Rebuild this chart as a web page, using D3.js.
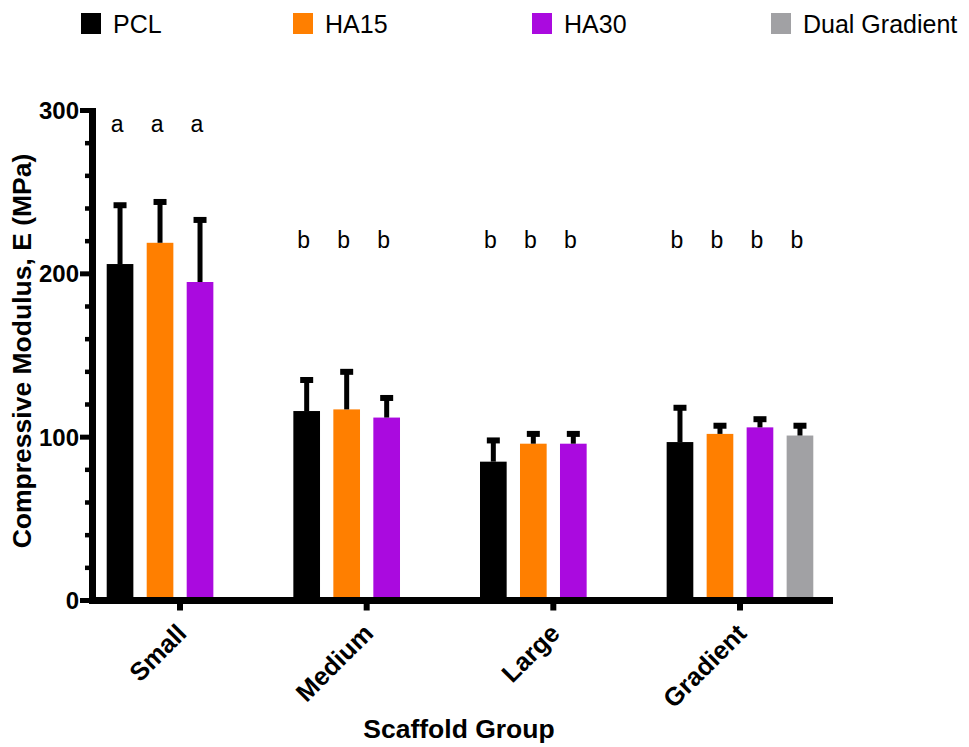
<!DOCTYPE html>
<html><head><meta charset="utf-8">
<script src="https://cdn.jsdelivr.net/npm/d3@7"></script>
<style>
body{margin:0;background:#fff}
svg{display:block}
text{font-family:Arial,"Liberation Sans",Helvetica,sans-serif}
</style>
</head><body>
<svg id="c" width="969" height="747"></svg>
<script>
// ---- data ----
const groups = ["Small", "Medium", "Large", "Gradient"];
const seriesNames = ["PCL", "HA15", "HA30", "Dual Gradient"];
const seriesColors = ["#000000", "#FF7F00", "#AA0ADF", "#A1A1A4"];
const pclMean  = [206, 116, 85, 97];
const pclSD    = [36, 19, 13, 21];
const ha15Mean = [219, 117, 96, 102];
const ha15SD   = [25, 23, 6, 5];
const ha30Mean = [195, 112, 96, 106];
const ha30SD   = [38, 12, 6, 5];
const dualMean = [null, null, null, 101];
const dualSD   = [null, null, null, 6];
const sigLetters = [["a","a","a",null],["b","b","b",null],["b","b","b",null],["b","b","b","b"]];
const letterLevel = [287, 216, 216, 216];
const yTickValues = [0, 100, 200, 300];
const yMinorValues = d3.range(0, 301, 20).filter(v => v % 100 !== 0);

const means = [pclMean, ha15Mean, ha30Mean, dualMean];
const sds = [pclSD, ha15SD, ha30SD, dualSD];
const rows = [];
groups.forEach((g, gi) => seriesNames.forEach((s, si) => {
  if (means[si][gi] != null) rows.push({g, s, si, gi, m: means[si][gi], sd: sds[si][gi]});
}));

const svg = d3.select("#c");
const axisX = 92.5;
const x0 = d3.scaleBand().domain(groups).range([86.7, 833.3]).padding(0);
const x1 = d3.scaleBand().domain(seriesNames).range([0, x0.bandwidth()]).paddingInner(1/3).paddingOuter(0.5);
const y = d3.scaleLinear().domain([0, 300]).range([600.5, 110.5]);

// bars
svg.append("g").selectAll("rect").data(rows).join("rect")
  .attr("x", d => x0(d.g) + x1(d.s))
  .attr("y", d => y(d.m))
  .attr("width", x1.bandwidth())
  .attr("height", d => y(0) - y(d.m))
  .attr("fill", d => seriesColors[d.si]);

// error bars (upper only)
const eb = svg.append("g");
rows.forEach(d => {
  const cx = x0(d.g) + x1(d.s) + x1.bandwidth() / 2;
  eb.append("line").attr("x1", cx).attr("x2", cx)
    .attr("y1", y(d.m)).attr("y2", y(d.m + d.sd))
    .attr("stroke", "#000").attr("stroke-width", 5);
  eb.append("line").attr("x1", cx - 6.5).attr("x2", cx + 6.5)
    .attr("y1", y(d.m + d.sd)).attr("y2", y(d.m + d.sd))
    .attr("stroke", "#000").attr("stroke-width", 6);
});

// significance letters
const lg = svg.append("g");
groups.forEach((g, gi) => seriesNames.forEach((s, si) => {
  const L = sigLetters[gi][si];
  if (!L) return;
  lg.append("text").attr("x", x0(g) + x1(s) + x1.bandwidth() / 2 - 3)
    .attr("y", y(letterLevel[gi]))
    .attr("text-anchor", "middle").attr("font-size", 23).attr("fill", "#000").text(L);
}));

// y axis
const ya = svg.append("g");
ya.append("line").attr("x1", axisX).attr("x2", axisX)
  .attr("y1", y(300) - 2.5).attr("y2", y(0) + 3.5)
  .attr("stroke", "#000").attr("stroke-width", 7);
ya.selectAll("line.maj").data(yTickValues).join("line").attr("class", "maj")
  .attr("x1", 80).attr("x2", axisX).attr("y1", d => y(d)).attr("y2", d => y(d))
  .attr("stroke", "#000").attr("stroke-width", 5);
ya.selectAll("line.min").data(yMinorValues).join("line").attr("class", "min")
  .attr("x1", 85).attr("x2", axisX).attr("y1", d => y(d)).attr("y2", d => y(d))
  .attr("stroke", "#000").attr("stroke-width", 4.5);
ya.selectAll("text").data(yTickValues).join("text")
  .attr("x", 79).attr("y", d => y(d)).attr("dy", "0.35em")
  .attr("text-anchor", "end").attr("font-size", 24).attr("font-weight", "bold")
  .text(d => d);

// x axis
const xa = svg.append("g");
xa.append("line").attr("x1", axisX - 3.5).attr("x2", 833)
  .attr("y1", y(0)).attr("y2", y(0))
  .attr("stroke", "#000").attr("stroke-width", 7);
xa.selectAll("line.t").data(groups).join("line").attr("class", "t")
  .attr("x1", d => x0(d) + x0.bandwidth() / 2).attr("x2", d => x0(d) + x0.bandwidth() / 2)
  .attr("y1", y(0)).attr("y2", y(0) + 10)
  .attr("stroke", "#000").attr("stroke-width", 6);
xa.selectAll("text").data(groups).join("text")
  .attr("transform", d => `translate(${x0(d) + x0.bandwidth() / 2 + 8},${635}) rotate(-45)`)
  .attr("text-anchor", "end").attr("font-size", 25.5).attr("font-weight", "bold")
  .text(d => d);

// axis titles
svg.append("text").attr("transform", "translate(31,351) rotate(-90)")
  .attr("text-anchor", "middle").attr("font-size", 26.5).attr("font-weight", "bold")
  .text("Compressive Modulus, E (MPa)");
svg.append("text").attr("x", 459).attr("y", 738)
  .attr("text-anchor", "middle").attr("font-size", 26.5).attr("font-weight", "bold")
  .text("Scaffold Group");

// legend
const legX = [81, 293, 532, 771];
const leg = svg.append("g");
seriesNames.forEach((s, i) => {
  leg.append("rect").attr("x", legX[i]).attr("y", 13).attr("width", 20).attr("height", 21).attr("fill", seriesColors[i]);
  leg.append("text").attr("x", legX[i] + 32).attr("y", 33).attr("font-size", 25).attr("fill", "#000").text(s);
});
</script>
</body></html>
